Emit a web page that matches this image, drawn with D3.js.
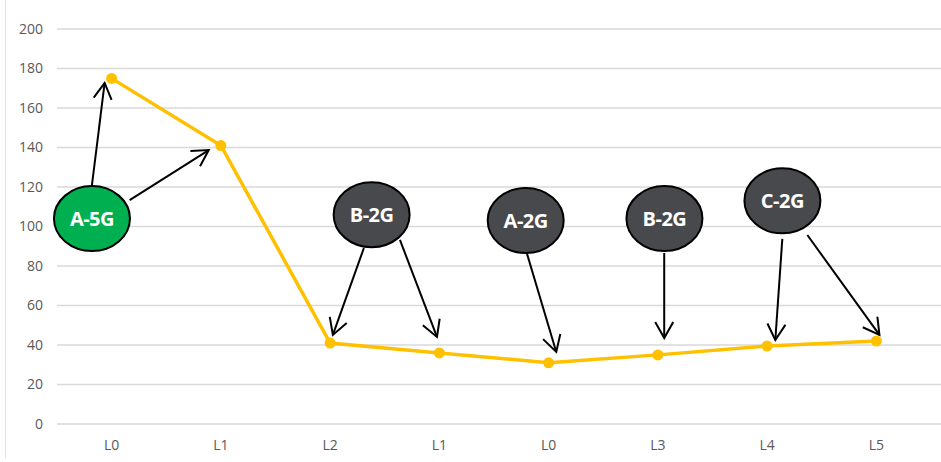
<!DOCTYPE html>
<html>
<head>
<meta charset="utf-8">
<script src="https://cdn.jsdelivr.net/npm/d3@7"></script>
<style>
  body { margin: 0; background: #fff; }
  text { font-family: "Open Sans", "Liberation Sans", sans-serif; }
</style>
</head>
<body>
<div id="chart"></div>
<script>
// 1: DATA
const categories = ["L0", "L1", "L2", "L1", "L0", "L3", "L4", "L5"];
const values = [175, 141, 41, 36, 31, 35, 39.5, 42];
const yTicks = [0, 20, 40, 60, 80, 100, 120, 140, 160, 180, 200];

// bubbles: label, position in (category index, value)
const bubbleLabels = ["A-5G", "B-2G", "A-2G", "B-2G", "C-2G"];
const bubbleIdx = [-0.18, 2.38, 3.79, 5.06, 6.14];
const bubbleVal = [104, 106, 103, 104, 113];
const bubbleFill = ["#00b050", "#48494d", "#48494d", "#48494d", "#48494d"];

// arrows: [fromIdx, fromVal, toIdx, toVal]
const arrows = [
  [-0.18, 121, -0.064, 172.7],
  [0.165, 113.4, 0.889, 138.7],
  [2.309, 89.1, 2.025, 45.1],
  [2.639, 93.2, 2.978, 44.1],
  [3.80, 86.6, 4.07, 36.5],
  [5.058, 86.6, 5.058, 43.5],
  [6.139, 93.7, 6.075, 42.5],
  [6.368, 95.7, 7.028, 45.1]
];

// 2: LAYOUT
const W = 941, H = 462;
const margin = { top: 29, right: 10, bottom: 38, left: 57 };
const plotRight = 931;

const svg = d3.select("#chart").append("svg")
  .attr("width", W).attr("height", H);

// 3: SCALES
const x = d3.scaleBand()
  .domain(d3.range(categories.length))
  .range([margin.left, plotRight])
  .padding(0);
const xc = i => x(0) + x.bandwidth() * (i + 0.5);

const y = d3.scaleLinear()
  .domain([0, 200])
  .range([H - margin.bottom, margin.top]);

// left chart-area border
svg.append("line")
  .attr("x1", 5.5).attr("x2", 5.5)
  .attr("y1", 0).attr("y2", 458)
  .attr("stroke", "#e3e3e3").attr("stroke-width", 1);

// 4: GRID + AXES
svg.append("g").selectAll("line")
  .data(yTicks)
  .join("line")
  .attr("x1", margin.left).attr("x2", W)
  .attr("y1", d => y(d)).attr("y2", d => y(d))
  .attr("stroke", "#d9d9d9").attr("stroke-width", 1.5);

const yAxis = svg.append("g")
  .attr("transform", `translate(${margin.left - 14},0)`)
  .call(d3.axisLeft(y).tickValues(yTicks).tickSize(0).tickPadding(0));
yAxis.select(".domain").remove();
yAxis.selectAll("text")
  .attr("fill", "#595959")
  .style("font-size", "14px");

const xAxis = svg.append("g")
  .attr("transform", `translate(0,${y(0) + 16})`)
  .call(d3.axisBottom(x).tickFormat(i => categories[i]).tickSize(0).tickPadding(0));
xAxis.select(".domain").remove();
xAxis.selectAll("text")
  .attr("fill", "#595959")
  .style("font-size", "14px");

// 5: LINE
const line = d3.line()
  .x((d, i) => xc(i))
  .y(d => y(d));

svg.append("path")
  .datum(values)
  .attr("fill", "none")
  .attr("stroke", "#ffc000")
  .attr("stroke-width", 3.5)
  .attr("d", line);

svg.selectAll(".pt")
  .data(values)
  .join("circle")
  .attr("class", "pt")
  .attr("cx", (d, i) => xc(i))
  .attr("cy", d => y(d))
  .attr("r", 5.5)
  .attr("fill", "#ffc000");

// 6: ARROWS
svg.append("defs").append("marker")
  .attr("id", "arrow")
  .attr("viewBox", "0 0 20 20")
  .attr("refX", 18).attr("refY", 10)
  .attr("markerWidth", 20).attr("markerHeight", 20)
  .attr("markerUnits", "userSpaceOnUse")
  .attr("orient", "auto")
  .append("path")
  .attr("d", "M2,1 L18,10 L2,19")
  .attr("fill", "none")
  .attr("stroke", "#000")
  .attr("stroke-width", 2);

svg.append("g").selectAll("line")
  .data(arrows)
  .join("line")
  .attr("x1", d => xc(d[0])).attr("y1", d => y(d[1]))
  .attr("x2", d => xc(d[2])).attr("y2", d => y(d[3]))
  .attr("stroke", "#000")
  .attr("stroke-width", 2)
  .attr("marker-end", "url(#arrow)");

// 7: BUBBLES
const bubbles = svg.append("g").selectAll("g")
  .data(bubbleLabels)
  .join("g")
  .attr("transform", (d, i) => `translate(${xc(bubbleIdx[i])},${y(bubbleVal[i])})`);

bubbles.append("ellipse")
  .attr("rx", 38).attr("ry", 32.5)
  .attr("fill", (d, i) => bubbleFill[i])
  .attr("stroke", "#000")
  .attr("stroke-width", 2);

bubbles.append("text")
  .attr("text-anchor", "middle")
  .attr("dy", "0.36em")
  .attr("fill", "#fff")
  .style("font-size", "20px")
  .style("font-weight", "bold")
  .style("letter-spacing", "-0.5px")
  .text(d => d);
</script>
</body>
</html>
